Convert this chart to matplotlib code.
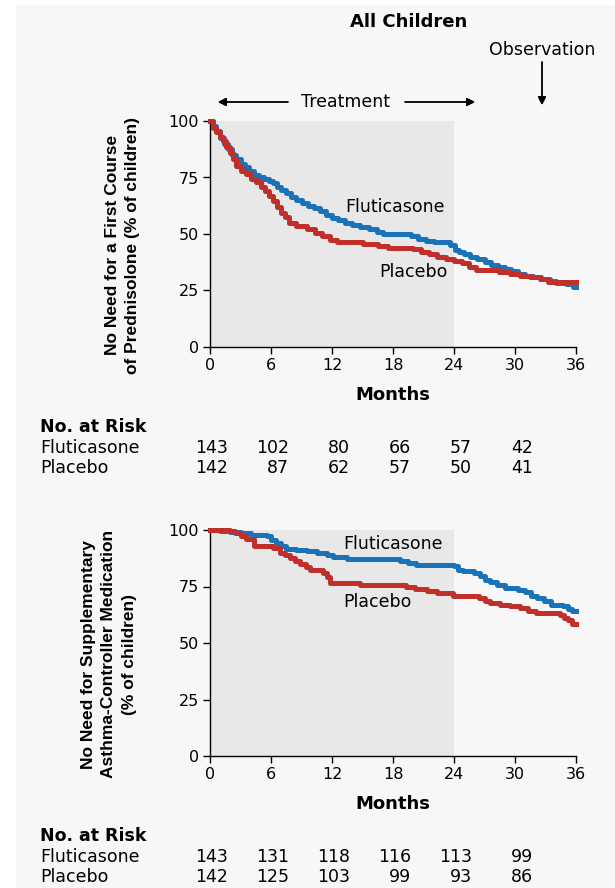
import matplotlib.pyplot as plt
from matplotlib.patches import Rectangle

W, H = 615, 888

months = [0, 6, 12, 18, 24, 30, 36]
yticks = [0, 25, 50, 75, 100]

# top panel: first course of prednisolone
pred_flu_t = [0, 0.3, 0.6, 1.0, 1.4, 1.8, 2.2, 2.6, 3.0, 3.4, 3.8, 4.3, 4.8, 5.3, 5.8, 6.2,
              6.6, 7.0, 7.5, 8.0, 8.5, 9.0, 9.6, 10.2, 10.8, 11.4, 12.0, 12.6, 13.3, 14.0,
              14.8, 15.6, 16.4, 17.0, 19.8, 20.5, 21.2, 22.0, 23.6, 24.1, 24.5, 25.0, 25.6,
              26.3, 27.0, 27.6, 28.3, 29.0, 29.6, 30.3, 31.0, 31.8, 32.6, 33.4, 34.0, 35.0,
              35.7, 36.0]
pred_flu_v = [100, 98, 95.5, 92.5, 90, 87.5, 85, 83, 81, 79.5, 78, 76, 75, 74.3, 73.5, 72.5,
              71, 69.5, 68, 66.5, 65, 63.5, 62.5, 61.5, 60, 58.5, 57, 56, 55, 54,
              53, 52, 51, 50.2, 49, 48, 47, 46.4, 45, 43, 42, 41, 40,
              39, 37.5, 36.5, 35.5, 34.5, 33.5, 32.5, 31.5, 31, 30, 29.3, 28.5, 28,
              26.5, 26.5]
pred_pla_t = [0, 0.3, 0.6, 1.0, 1.3, 1.6, 2.0, 2.3, 2.6, 3.0, 3.5, 4.0, 4.5, 5.0, 5.4, 5.8,
              6.2, 6.6, 7.0, 7.4, 7.8, 8.5, 9.5, 10.3, 11.0, 11.8, 12.5, 15.0, 16.5, 17.5,
              20.0, 20.8, 21.5, 22.3, 23.2, 24.0, 24.8, 25.5, 26.2, 28.4, 29.5, 30.5, 31.5,
              32.5, 33.2, 36.0]
pred_pla_v = [100, 97, 95, 93, 91, 88.5, 86, 83, 80, 78, 76.5, 74.5, 73, 71, 69, 67,
              64.5, 62, 59.5, 57.5, 55, 53.5, 52, 50.5, 49, 47.5, 46.4, 45.7, 44.6, 44,
              43.3, 42, 41, 40, 39, 38.2, 37, 35.5, 34, 33.3, 32.5, 31.5, 31,
              30, 28.8, 28.8]

# bottom panel: supplementary asthma-controller medication
ctrl_flu_t = [0, 1.0, 2.0, 3.0, 4.0, 5.6, 6.0, 6.5, 7.0, 7.5, 8.5, 9.5, 10.5, 11.5, 12.1,
              13.5, 15.4, 18.7, 19.5, 20.3, 24.0, 24.4, 24.9, 26.0, 26.6, 27.0, 27.5, 28.2,
              29.0, 30.3, 31.0, 31.6, 32.2, 32.9, 33.5, 34.7, 35.2, 35.6, 36.0]
ctrl_flu_v = [100, 99.5, 99, 98.5, 98, 97.3, 95.5, 94.4, 93, 91.5, 91, 90.5, 90, 89, 88,
              87.3, 87, 86.3, 85.5, 84.7, 84, 82.5, 81.8, 81, 79.5, 78, 77, 75.5,
              74.5, 73.6, 72.5, 71, 69.8, 68.5, 67, 66.2, 65, 64, 64]
ctrl_pla_t = [0, 2.0, 2.5, 3.0, 3.5, 4.3, 6.2, 6.9, 7.4, 7.9, 8.4, 8.9, 9.4, 9.8, 11.1,
              11.5, 11.8, 14.8, 19.3, 20.2, 21.3, 22.3, 23.9, 26.5, 27.0, 27.5, 28.5, 29.5,
              30.5, 31.3, 32.1, 34.4, 34.8, 35.2, 35.6, 36.0]
ctrl_pla_v = [100, 99.5, 98.5, 97.4, 96, 92.7, 92, 90, 89, 87.8, 86.5, 84.8, 83.5, 82.5, 81,
              79, 76.6, 75.8, 75, 74, 72.8, 72, 70.6, 69.8, 68.8, 67.6, 67, 66.2,
              65.3, 64.3, 63.1, 62.4, 61.2, 60, 58.5, 58.5]

risk_groups = ["Fluticasone", "Placebo"]
risk_pred = [[143, 102, 80, 66, 57, 42], [142, 87, 62, 57, 50, 41]]
risk_ctrl = [[143, 131, 118, 116, 113, 99], [142, 125, 103, 99, 93, 86]]

BLUE = "#1a72b9"
RED = "#c02f2a"
BG = "#f7f7f7"
SHADE = "#e8e8e8"
label_font = ["Liberation Sans", "DejaVu Sans"]
TXT = 12.5


def fx(px):
    return px / W


def fy(py):
    return 1 - py / H


fig = plt.figure(figsize=(W / 100, H / 100), dpi=100, facecolor="white")
fig.patches.append(Rectangle((fx(16), 0), 1, fy(5), transform=fig.transFigure,
                             facecolor=BG, edgecolor="none", zorder=-10))


def panel(top_px, flu_t, flu_v, pla_t, pla_v, ylabel, label_x, flu_xy, pla_xy, risk, table_top):
    ax = fig.add_axes([fx(210), fy(top_px + 226), fx(576) - fx(210), 226 / H])
    ax.set_facecolor("none")
    ax.add_patch(Rectangle((0, 0), 24, 100, facecolor=SHADE, edgecolor="none", zorder=0))
    ax.step(pla_t, pla_v, where="post", color=RED, lw=3.6, clip_on=False, zorder=3)
    ax.step(flu_t, flu_v, where="post", color=BLUE, lw=3.6, clip_on=False, zorder=2)
    ax.set_xlim(0, 36)
    ax.set_ylim(0, 100)
    ax.set_xticks(months)
    ax.set_yticks(yticks)
    ax.tick_params(direction="out", length=5, width=1, labelsize=11.5, pad=3)
    for s in ("top", "right"):
        ax.spines[s].set_visible(False)
    for s in ("left", "bottom"):
        ax.spines[s].set_linewidth(1)
    ax.set_xlabel("Months", fontsize=13, fontweight="bold", labelpad=9)
    ax.set_ylabel(ylabel, fontsize=12.5, fontweight="bold", family=label_font,
                  linespacing=1.45)
    ax.yaxis.set_label_coords(label_x, 0.45)
    ax.text(flu_xy[0], flu_xy[1], "Fluticasone", fontsize=TXT, ha="left", va="center")
    ax.text(pla_xy[0], pla_xy[1], "Placebo", fontsize=TXT, ha="left", va="center")

    fig.text(fx(40), fy(table_top), "No. at Risk", fontsize=TXT, fontweight="bold",
             va="center")
    for r, (name, row) in enumerate(zip(risk_groups, risk)):
        yy = fy(table_top + 21 + 20 * r)
        fig.text(fx(40), yy, name, fontsize=TXT, va="center")
        for m, n in zip(months, row):
            xpix = 210 + m * (366 / 36) + 18
            fig.text(fx(xpix), yy, str(n), fontsize=TXT, ha="right", va="center")
    return ax


panel(121, pred_flu_t, pred_flu_v, pred_pla_t, pred_pla_v,
      "No Need for a First Course\nof Prednisolone (% of children)", -0.19,
      (13.3, 62), (16.6, 33), risk_pred, 427)
panel(530, ctrl_flu_t, ctrl_flu_v, ctrl_pla_t, ctrl_pla_v,
      "No Need for Supplementary\nAsthma-Controller Medication\n(% of children)", -0.2,
      (13.1, 94), (13.1, 68), risk_ctrl, 836)

fig.text(fx(409), fy(22), "All Children", fontsize=13, fontweight="bold",
         ha="center", va="center")
fig.text(fx(542), fy(50), "Observation", fontsize=TXT, ha="center", va="center")
fig.text(fx(345), fy(102), "Treatment", fontsize=TXT, ha="center", va="center")

arrow = dict(arrowstyle="-|>", color="black", lw=1, mutation_scale=12, shrinkA=0, shrinkB=0)
fig.add_artist(plt.annotate("", xy=(fx(218), fy(102)), xytext=(fx(288), fy(102)),
                            xycoords="figure fraction", arrowprops=arrow))
fig.add_artist(plt.annotate("", xy=(fx(475), fy(102)), xytext=(fx(405), fy(102)),
                            xycoords="figure fraction", arrowprops=arrow))
fig.add_artist(plt.annotate("", xy=(fx(542), fy(105)), xytext=(fx(542), fy(62)),
                            xycoords="figure fraction", arrowprops=arrow))

fig.savefig("out.png", dpi=100, facecolor="white")
